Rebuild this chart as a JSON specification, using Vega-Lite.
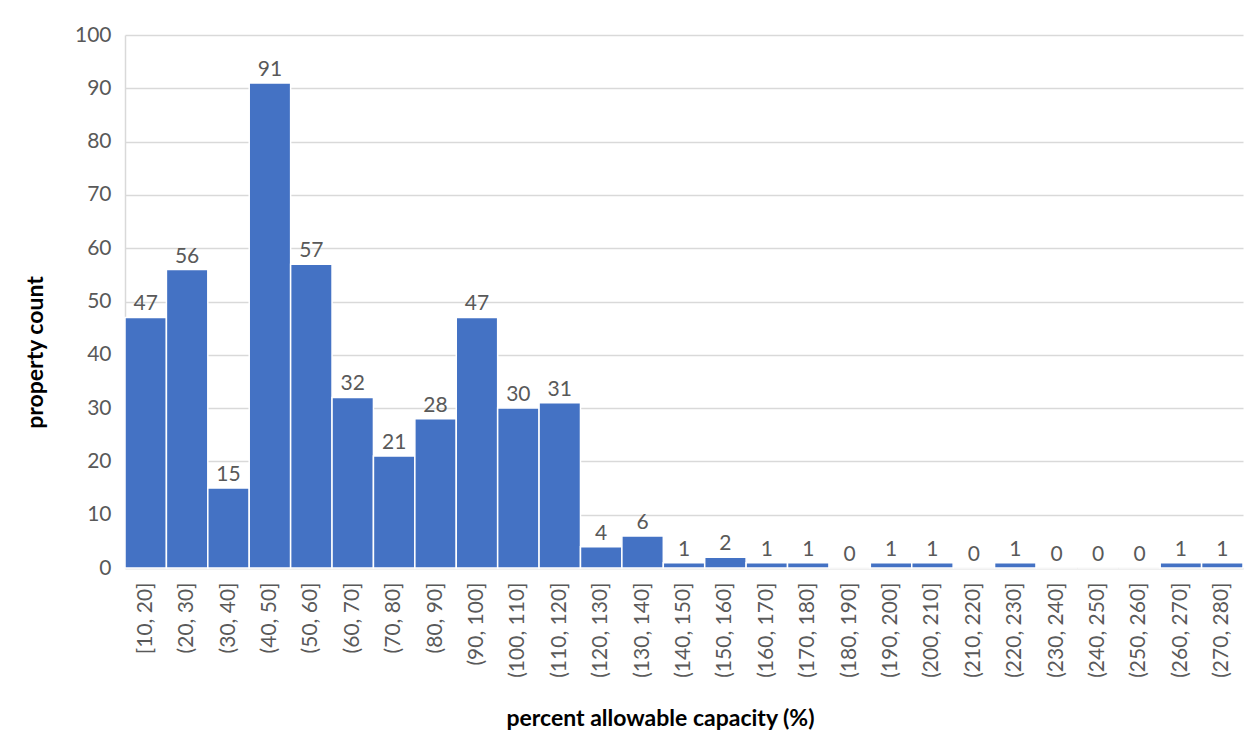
{
  "$schema": "https://vega.github.io/schema/vega-lite/v6.json",
  "autosize": {"type": "none"},
  "width": 1118,
  "height": 533,
  "padding": {"left": 125, "top": 35, "right": 8, "bottom": 177},
  "background": "white",
  "config": {
    "font": "Lato",
    "view": {"stroke": null},
    "axis": {"labelFont": "Lato", "titleFont": "Lato"}
  },
  "data": {
    "values": [
      {"bin": "[10, 20]", "count": 47},
      {"bin": "(20, 30]", "count": 56},
      {"bin": "(30, 40]", "count": 15},
      {"bin": "(40, 50]", "count": 91},
      {"bin": "(50, 60]", "count": 57},
      {"bin": "(60, 70]", "count": 32},
      {"bin": "(70, 80]", "count": 21},
      {"bin": "(80, 90]", "count": 28},
      {"bin": "(90, 100]", "count": 47},
      {"bin": "(100, 110]", "count": 30},
      {"bin": "(110, 120]", "count": 31},
      {"bin": "(120, 130]", "count": 4},
      {"bin": "(130, 140]", "count": 6},
      {"bin": "(140, 150]", "count": 1},
      {"bin": "(150, 160]", "count": 2},
      {"bin": "(160, 170]", "count": 1},
      {"bin": "(170, 180]", "count": 1},
      {"bin": "(180, 190]", "count": 0},
      {"bin": "(190, 200]", "count": 1},
      {"bin": "(200, 210]", "count": 1},
      {"bin": "(210, 220]", "count": 0},
      {"bin": "(220, 230]", "count": 1},
      {"bin": "(230, 240]", "count": 0},
      {"bin": "(240, 250]", "count": 0},
      {"bin": "(250, 260]", "count": 0},
      {"bin": "(260, 270]", "count": 1},
      {"bin": "(270, 280]", "count": 1}
    ]
  },
  "encoding": {
    "x": {
      "field": "bin",
      "type": "nominal",
      "sort": null,
      "scale": {"paddingInner": 0, "paddingOuter": 0},
      "axis": {
        "title": "percent allowable capacity (%)",
        "titleFontSize": 23,
        "titleFontWeight": "bold",
        "titleColor": "#000000",
        "titleX": 535,
        "titleY": 150,
        "titleBaseline": "middle",
        "labelAngle": -90,
        "labelFontSize": 21,
        "labelColor": "#595959",
        "labelPadding": 14,
        "ticks": false,
        "domain": true,
        "domainColor": "#d9d9d9",
        "domainWidth": 1.5
      }
    },
    "y": {
      "field": "count",
      "type": "quantitative",
      "scale": {"domain": [0, 100], "nice": false},
      "axis": {
        "title": "property count",
        "titleFontSize": 23,
        "titleFontWeight": "bold",
        "titleColor": "#000000",
        "titleX": -90,
        "titleY": 317,
        "titleBaseline": "middle",
        "values": [0, 10, 20, 30, 40, 50, 60, 70, 80, 90, 100],
        "labelFontSize": 21,
        "labelColor": "#595959",
        "labelPadding": 14,
        "ticks": false,
        "grid": true,
        "gridColor": "#d9d9d9",
        "gridWidth": 1.5,
        "domain": true,
        "domainColor": "#d9d9d9",
        "domainWidth": 1.5
      }
    }
  },
  "layer": [
    {
      "mark": {"type": "bar", "color": "#4472C4", "stroke": "white", "strokeWidth": 1.5}
    },
    {
      "mark": {"type": "text", "baseline": "alphabetic", "dy": -7, "fontSize": 21, "color": "#595959", "font": "Lato"},
      "encoding": {"text": {"field": "count", "type": "quantitative"}}
    }
  ]
}
